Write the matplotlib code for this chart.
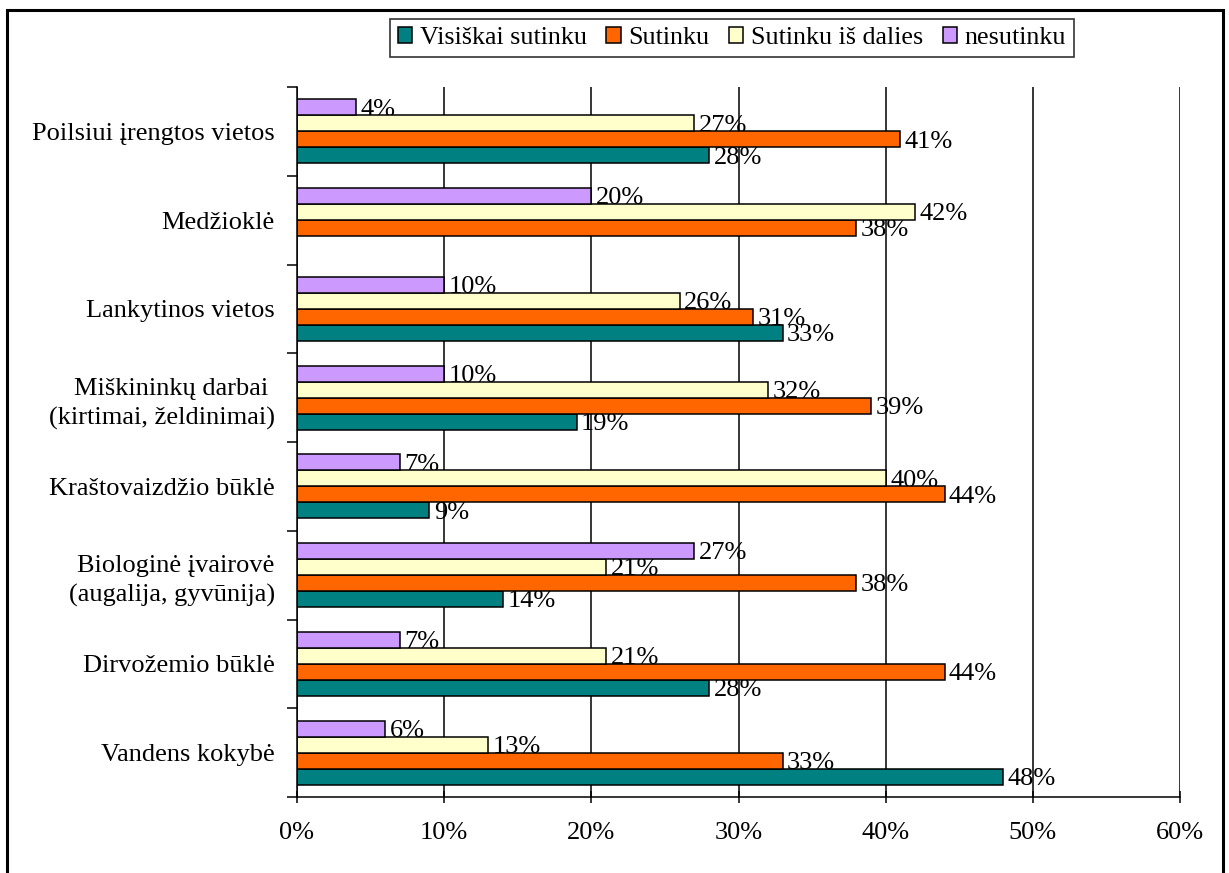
import numpy as np
import matplotlib
matplotlib.use('Agg')
import matplotlib.pyplot as plt
from matplotlib.patches import Rectangle
from matplotlib.ticker import FuncFormatter

plt.rcParams['font.family'] = ['Liberation Serif', 'DejaVu Serif']
plt.rcParams['font.size'] = 19

# categories, bottom to top
categories = ['Vandens kokybė', 'Dirvožemio būklė',
              'Biologinė įvairovė\n(augalija, gyvūnija)', 'Kraštovaizdžio būklė',
              'Miškininkų darbai \n(kirtimai, želdinimai)', 'Lankytinos vietos',
              'Medžioklė', 'Poilsiui įrengtos vietos']

series = ['Visiškai sutinku', 'Sutinku', 'Sutinku iš dalies', 'nesutinku']
visiskai = [48, 28, 14, 9, 19, 33, 0, 28]
sutinku = [33, 44, 38, 44, 39, 31, 38, 41]
is_dalies = [13, 21, 21, 40, 32, 26, 42, 27]
nesutinku = [6, 7, 27, 7, 10, 10, 20, 4]
colors = ['#008080', '#FF6600', '#FFFFCC', '#CC99FF']

fig = plt.figure(figsize=(12.29, 8.73), dpi=100)
ax = fig.add_axes([297/1229, 1-797/873, 883/1229, 710/873])

y = np.arange(len(categories))
h = 0.18
offsets = [-1.5*h, -0.5*h, 0.5*h, 1.5*h]
for vals, off, col, name in zip([visiskai, sutinku, is_dalies, nesutinku], offsets, colors, series):
    bars = ax.barh(y + off, vals, height=h, color=col, edgecolor='black',
                   linewidth=1.1, label=name, zorder=3)
    for b, v in zip(bars, vals):
        if v == 0:
            b.set_visible(False)
            continue
        # labels sit under the bars, like the original where they get partly hidden
        ax.text(v + 0.3, b.get_y() + h/2 - 0.025, f'{v}%', ha='left', va='center',
                fontsize=19, zorder=2.5)

ax.set_xlim(0, 60)
ax.set_ylim(-0.5, len(categories) - 0.5)
ax.set_xticks(np.arange(0, 61, 10))
ax.xaxis.set_major_formatter(FuncFormatter(lambda v, p: f'{v:.0f}%'))
ax.set_yticks(y)
ax.set_yticklabels(categories, linespacing=1.4)
ax.set_yticks(np.arange(-0.5, len(categories)), minor=True)
ax.tick_params(axis='y', which='major', length=0, pad=16)
ax.tick_params(axis='y', which='minor', length=7, width=1.1, direction='out')
ax.tick_params(axis='x', length=8, width=1.1, direction='inout', pad=14)
ax.grid(axis='x', color='black', linewidth=1.1, zorder=1)
ax.set_axisbelow(True)
for s in ['top', 'right']:
    ax.spines[s].set_visible(False)
for s in ['left', 'bottom']:
    ax.spines[s].set_linewidth(1.1)
    ax.spines[s].set_zorder(4)

handles, labels = ax.get_legend_handles_labels()
leg = fig.legend(handles, labels, loc='center', bbox_to_anchor=(732/1229, 1-38/873),
                 ncol=4, frameon=True, fancybox=False, edgecolor='black',
                 handlelength=0.55, handleheight=0.55, handletextpad=0.3,
                 columnspacing=0.75, borderpad=0.3, fontsize=18.7)
leg.get_frame().set_linewidth(1.2)

# outer chart border (bottom edge falls outside the picture)
fig.add_artist(Rectangle((7/1229, -0.05), 1216/1229, 1.05 - 10/873,
                         transform=fig.transFigure, fill=False,
                         edgecolor='black', linewidth=2.2))

fig.savefig('out.png', dpi=100)
